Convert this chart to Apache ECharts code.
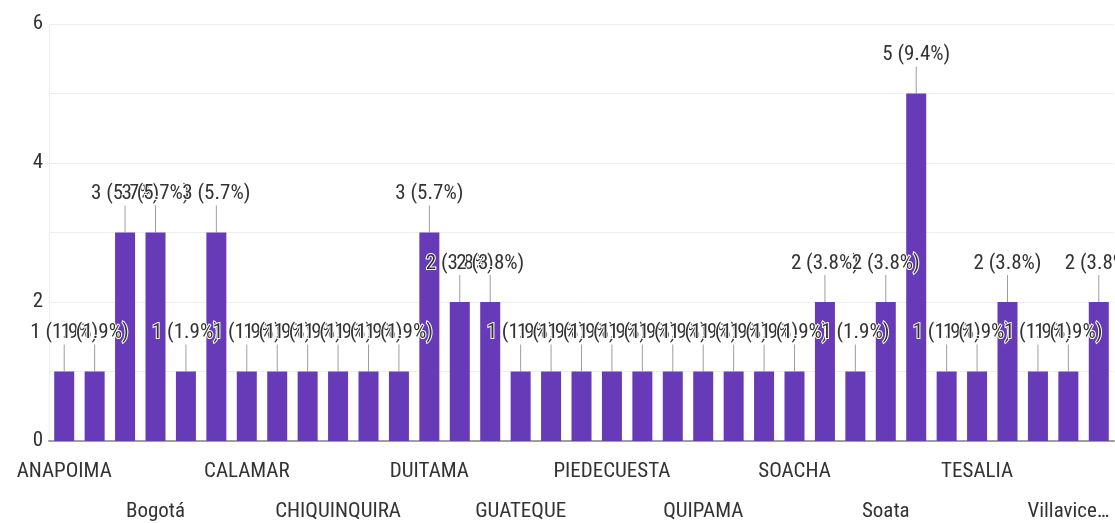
<!DOCTYPE html>
<html><head><meta charset="utf-8">
<script src="https://cdn.jsdelivr.net/npm/echarts@6/dist/echarts.min.js"></script>
<style>html,body{margin:0;padding:0;background:#fff}#c{width:1115px;height:523px}</style>
</head><body><div id="c"></div>
<script>
const categories = ["ANAPOIMA","ARMENIA","BARRANQUILLA","Bogotá","BUCARAMANGA","CAJICA","CALAMAR","CALI","CHIA","CHIQUINQUIRA","COTA","CUCUTA","DUITAMA","FACATATIVA","FUSAGASUGA","GUATEQUE","IBAGUE","MEDELLIN","PIEDECUESTA","PITALITO","POPAYAN","QUIPAMA","SAMACA","SIBATE","SOACHA","Soacha","SOATA","Soata","SOGAMOSO","TENJO","TESALIA","TUNJA","UBATE","Villavicencio","ZIPAQUIRA"];
const counts = [1,1,3,3,1,3,1,1,1,1,1,1,3,2,2,1,1,1,1,1,1,1,1,1,1,2,1,2,5,1,1,2,1,1,2];
const yTicks = [0,2,4,6];

const total = counts.reduce((a,b)=>a+b,0);
const FONT = '"Liberation Sans Narrow", "Roboto Condensed", "DejaVu Sans Condensed", Arial, sans-serif';
const chart = echarts.init(document.getElementById('c'));
chart.setOption({
  animation:false,
  grid:{left:49,right:1,top:24,bottom:82,containLabel:false,outerBoundsMode:'none'},
  xAxis:{type:'category',data:categories,
    axisLine:{lineStyle:{color:'#9e9e9e',width:2}},
    axisTick:{show:false},
    axisLabel:{interval:2,margin:11,color:'#333',fontFamily:FONT,fontSize:21,lineHeight:40,
      formatter:(v,i)=>{const n=v.length>12?v.slice(0,9)+'…':v;return (Math.round(i/3)%2===1)?'\n'+n:n;}}
  },
  yAxis:{type:'value',min:0,max:6,interval:1,
    axisLine:{show:true,lineStyle:{color:'#eeeeee'}},
    splitLine:{lineStyle:{color:'#eeeeee'}},
    axisLabel:{margin:6,color:'#333',fontFamily:FONT,fontSize:21,
      formatter:v=>yTicks.indexOf(v)>=0?String(v):''}
  },
  series:[{type:'bar',data:counts,barWidth:20,itemStyle:{color:'#673ab7'},
    label:{show:true,position:'top',distance:6,color:'#333',fontFamily:FONT,fontSize:21,
      textBorderColor:'#fff',textBorderWidth:2,
      formatter:p=>p.value+' ('+(p.value/total*100).toFixed(1)+'%)'},
    labelLayout:{dy:-22,hideOverlap:false},
    labelLine:{show:true,length2:0,lineStyle:{color:'#9e9e9e',width:1}}
  }]
});
</script></body></html>
